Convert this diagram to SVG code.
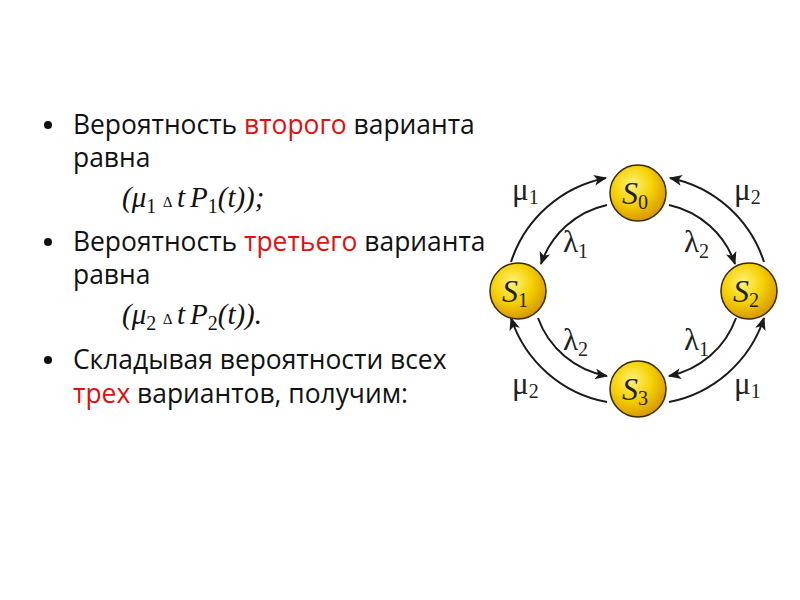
<svg xmlns="http://www.w3.org/2000/svg" width="800" height="600" viewBox="0 0 800 600">
<defs>
<radialGradient id="ball" cx="0.4" cy="0.35" r="0.65">
<stop offset="0" stop-color="#fff27a"/>
<stop offset="0.55" stop-color="#f5d000"/>
<stop offset="1" stop-color="#d89a00"/>
</radialGradient>
<marker id="arr" viewBox="0 0 12 10" refX="11" refY="5" markerWidth="13" markerHeight="11" markerUnits="userSpaceOnUse" orient="auto">
<path d="M0,0 L12,5 L0,10 L3,5 Z" fill="#1a1a1a"/>
</marker>
<style>
.t{font-family:"Open Sans","Noto Sans",sans-serif;font-size:26.4px;fill:#111}
.r{fill:#e01010}
.f{font-family:"Liberation Serif","Times New Roman",serif;font-style:italic;font-size:29px;fill:#111}
.sub{font-style:normal;font-size:20px}
.d{font-style:normal;font-size:15px}
.g{font-family:"Liberation Serif","Times New Roman",serif;font-size:31px;fill:#222}
.s{font-family:"Liberation Serif","Times New Roman",serif;font-style:italic;font-size:32px;fill:#222}
.c{fill:none;stroke:#1a1a1a;stroke-width:2;marker-end:url(#arr)}
.n{fill:url(#ball);stroke:#3a2a00;stroke-width:1.5}
</style>
</defs>
<rect width="800" height="600" fill="#fff"/>
<g id="text">
<circle cx="48" cy="125" r="4" fill="#111"/>
<text class="t" x="73" y="134">Вероятность <tspan class="r">второго</tspan> варианта</text>
<text class="t" x="73" y="167">равна</text>
<text class="f" y="207"><tspan x="122">(μ</tspan><tspan class="sub" dy="6">1</tspan><tspan class="d" x="163" dy="-6">∆</tspan><tspan x="177">t</tspan><tspan x="190">P</tspan><tspan class="sub" dy="6">1</tspan><tspan dy="-6">(t));</tspan></text>
<circle cx="48" cy="242" r="4" fill="#111"/>
<text class="t" x="73" y="251">Вероятность <tspan class="r">третьего</tspan> варианта</text>
<text class="t" x="73" y="284">равна</text>
<text class="f" y="324"><tspan x="122">(μ</tspan><tspan class="sub" dy="6">2</tspan><tspan class="d" x="163" dy="-6">∆</tspan><tspan x="177">t</tspan><tspan x="190">P</tspan><tspan class="sub" dy="6">2</tspan><tspan dy="-6">(t)).</tspan></text>
<circle cx="48" cy="360" r="4" fill="#111"/>
<text class="t" x="73" y="369">Складывая вероятности всех</text>
<text class="t" x="73" y="403"><tspan class="r">трех</tspan> вариантов, получим:</text>
</g>
<g id="connectors">
<path class="c" d="M511 262 A125 125 0 0 1 606 178"/>
<path class="c" d="M764 262 A125 125 0 0 0 670 178"/>
<path class="c" d="M607 205 A90 90 0 0 0 541 264"/>
<path class="c" d="M669 205 A90 90 0 0 1 735 264"/>
<path class="c" d="M538 318 A90 90 0 0 0 607 376"/>
<path class="c" d="M736 318 A90 90 0 0 1 669 376"/>
<path class="c" d="M607 402 A125 125 0 0 1 511 318"/>
<path class="c" d="M669 402 A125 125 0 0 0 764 318"/>
</g>
<g id="labels">
<text class="g" x="512" y="200">μ<tspan font-size="20" dy="4">1</tspan></text>
<text class="g" x="734" y="200">μ<tspan font-size="20" dy="4">2</tspan></text>
<text class="g" x="563" y="252">λ<tspan font-size="20" dy="6">1</tspan></text>
<text class="g" x="684" y="252">λ<tspan font-size="20" dy="6">2</tspan></text>
<text class="g" x="563" y="350">λ<tspan font-size="20" dy="6">2</tspan></text>
<text class="g" x="684" y="350">λ<tspan font-size="20" dy="6">1</tspan></text>
<text class="g" x="512" y="394">μ<tspan font-size="20" dy="4">2</tspan></text>
<text class="g" x="734" y="394">μ<tspan font-size="20" dy="4">1</tspan></text>
</g>
<g id="S0"><circle class="n" cx="638" cy="193" r="28"/><text class="s" x="622" y="204">S<tspan font-style="normal" font-size="20" dy="5">0</tspan></text></g>
<g id="S1"><circle class="n" cx="518" cy="291" r="28"/><text class="s" x="502" y="302">S<tspan font-style="normal" font-size="20" dy="5">1</tspan></text></g>
<g id="S2"><circle class="n" cx="749" cy="291" r="28"/><text class="s" x="733" y="302">S<tspan font-style="normal" font-size="20" dy="5">2</tspan></text></g>
<g id="S3"><circle class="n" cx="638" cy="389" r="28"/><text class="s" x="622" y="400">S<tspan font-style="normal" font-size="20" dy="5">3</tspan></text></g>
</svg>
